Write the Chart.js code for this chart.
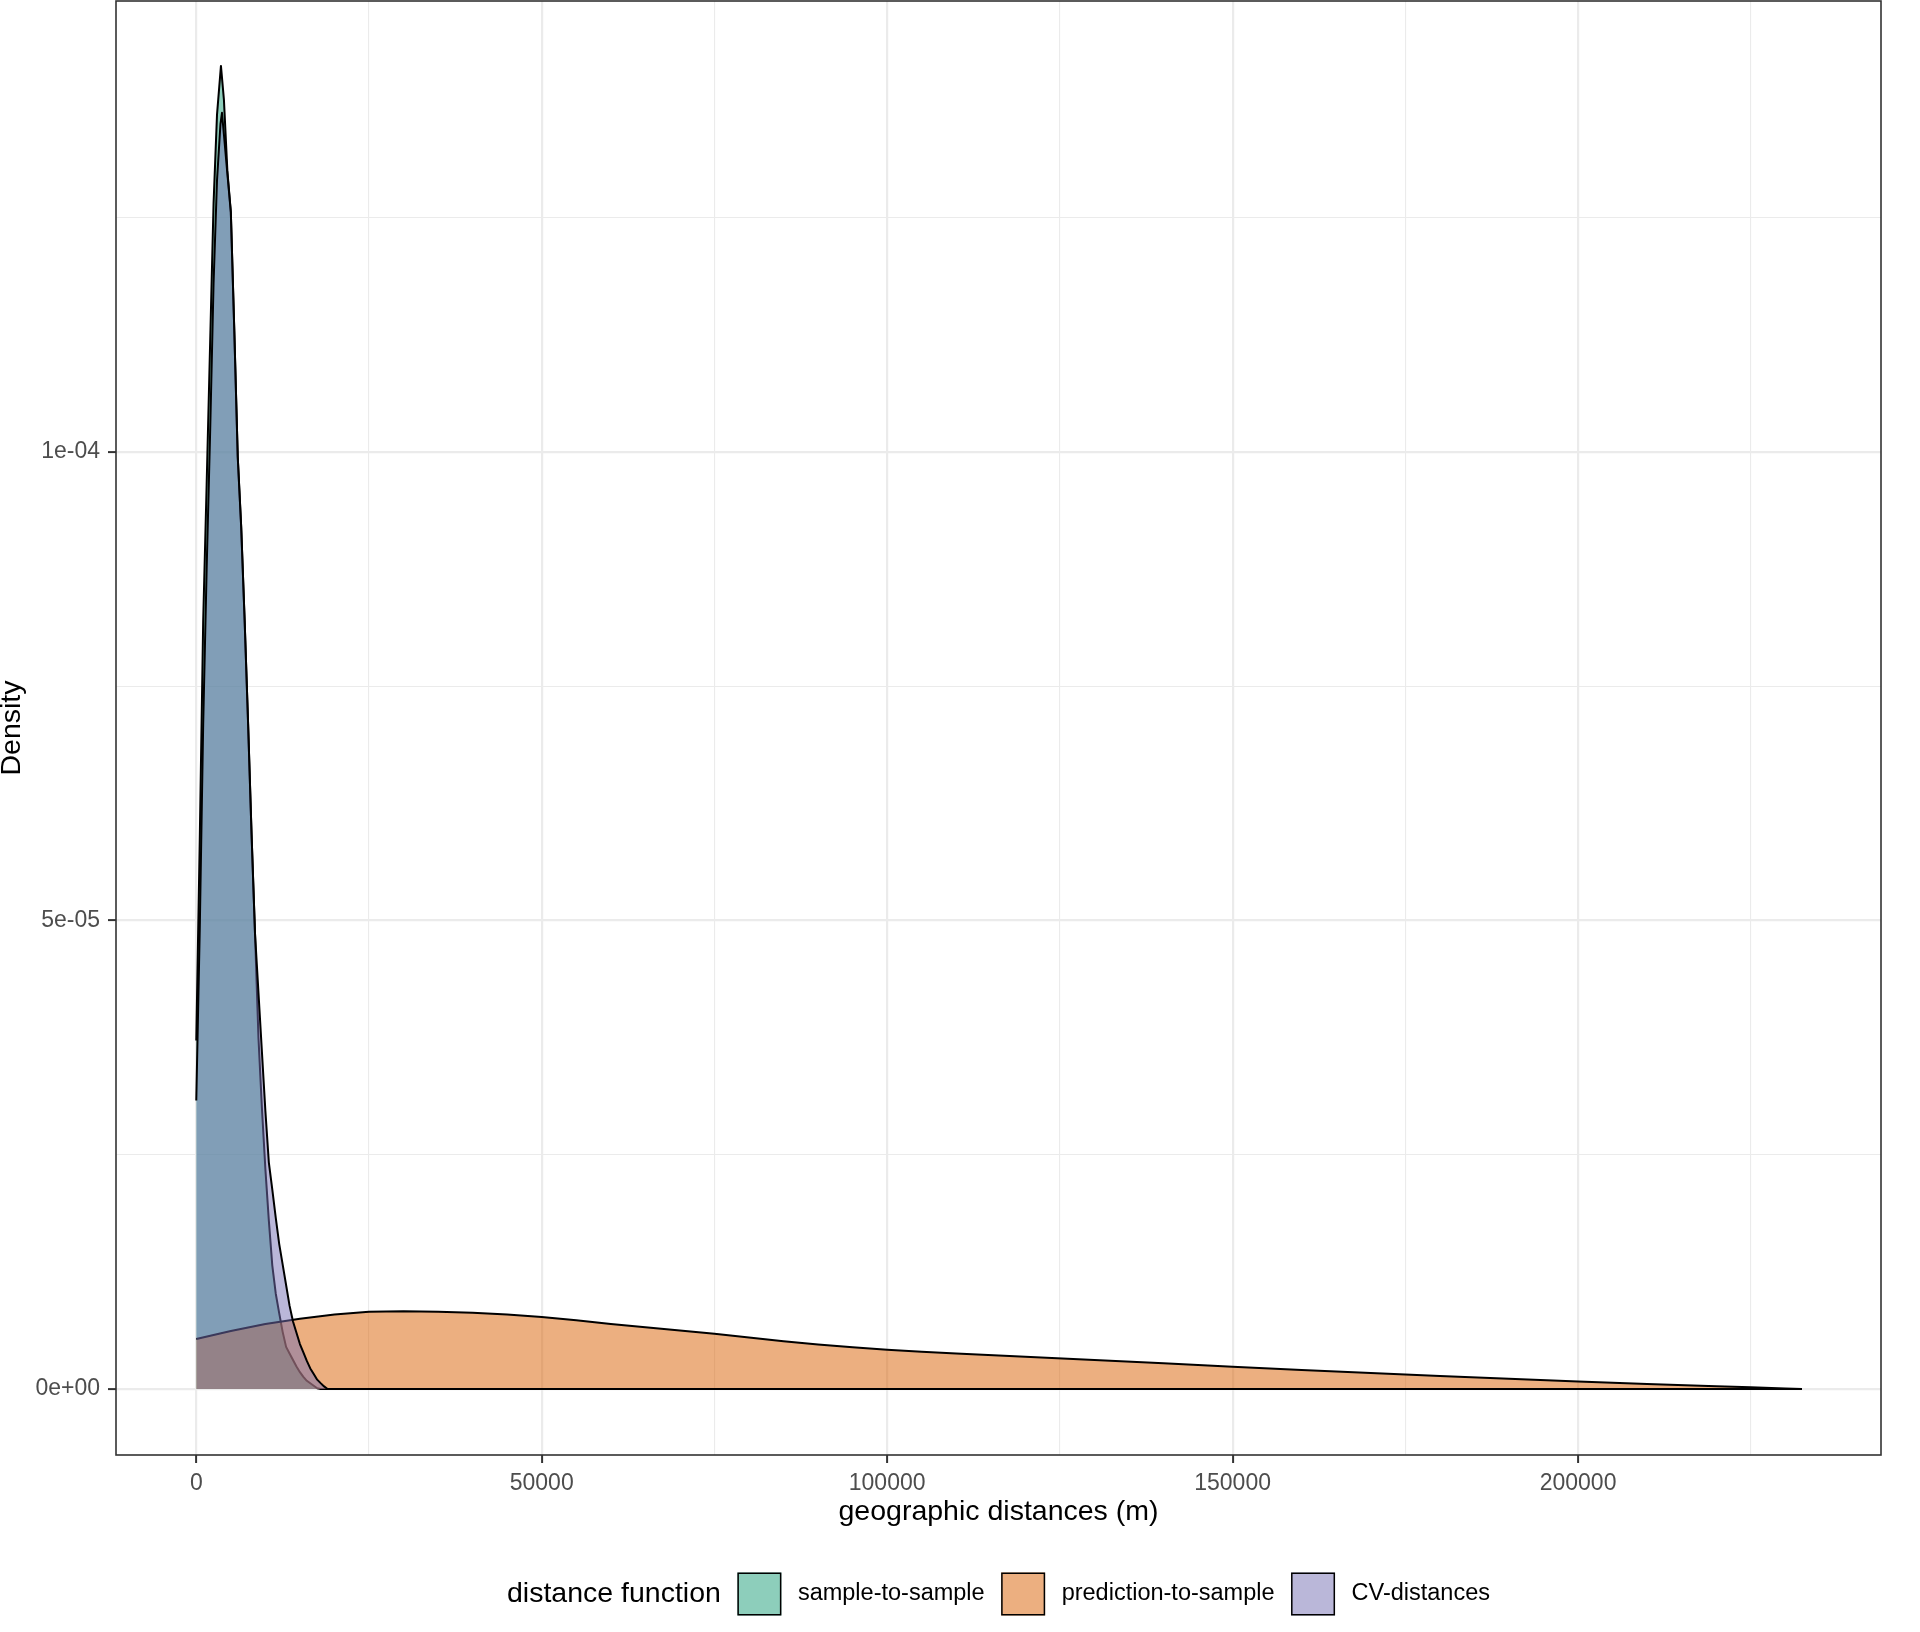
<!DOCTYPE html>
<html>
<head>
<meta charset="utf-8">
<script src="https://cdn.jsdelivr.net/npm/chart.js@4/dist/chart.umd.min.js"></script>
<style>
  html, body { margin: 0; padding: 0; background: #ffffff; }
  canvas { display: block; }
</style>
</head>
<body>
<canvas id="densChart" width="1920" height="1632" style="width:1920px;height:1632px"></canvas>
<script>
// density curves (x in metres, y = density)
const seriesNames = ['sample-to-sample', 'prediction-to-sample', 'CV-distances'];

const sampleX = [0, 500, 1000, 1500, 2000, 2500, 3000, 3570, 4000, 4500, 5000, 5500, 6000, 6500, 7000, 7500, 8000, 8500, 9000, 9500, 10000, 10500, 11000, 11500, 12000, 12500, 13000, 13500, 14000, 14500, 15000, 15500, 16000, 16500, 17000, 17500, 18000, 232400];
const sampleY = [3.72e-5, 5.85e-5, 8.2e-5, 9.65e-5, 1.115e-4, 1.265e-4, 1.36e-4, 1.412e-4, 1.376e-4, 1.30e-4, 1.256e-4, 1.13e-4, 9.95e-5, 9.2e-5, 8.2e-5, 7.1e-5, 5.92e-5, 4.86e-5, 3.75e-5, 3.0e-5, 2.35e-5, 1.8e-5, 1.32e-5, 1.02e-5, 8.1e-6, 6.1e-6, 4.5e-6, 3.8e-6, 3.1e-6, 2.4e-6, 1.8e-6, 1.3e-6, 8.8e-7, 6.1e-7, 3.5e-7, 8e-8, 0, 0];

const predX = [0, 5000, 10000, 15000, 20000, 25000, 30000, 35000, 40000, 45000, 50000, 55000, 60000, 65000, 70000, 75000, 80000, 85000, 90000, 95000, 100000, 105000, 110000, 120000, 130000, 140000, 150000, 160000, 170000, 180000, 190000, 200000, 210000, 220000, 225000, 230000, 232400];
const predY = [5.35e-6, 6.2e-6, 6.95e-6, 7.5e-6, 7.95e-6, 8.25e-6, 8.3e-6, 8.25e-6, 8.15e-6, 7.95e-6, 7.7e-6, 7.35e-6, 6.95e-6, 6.6e-6, 6.25e-6, 5.9e-6, 5.5e-6, 5.1e-6, 4.75e-6, 4.45e-6, 4.2e-6, 3.98e-6, 3.8e-6, 3.45e-6, 3.1e-6, 2.75e-6, 2.38e-6, 2.03e-6, 1.72e-6, 1.4e-6, 1.1e-6, 8.0e-7, 5.5e-7, 3.0e-7, 1.8e-7, 6e-8, 0];

const cvX = [0, 500, 1000, 1500, 2000, 2500, 3000, 3500, 3720, 4000, 4500, 5000, 5500, 6000, 6500, 7000, 7500, 8000, 8500, 9000, 9500, 10000, 10500, 11000, 11500, 12000, 12500, 13000, 13500, 14000, 14500, 15000, 15500, 16000, 16500, 17000, 17500, 18000, 18500, 19000, 232400];
const cvY = [3.08e-5, 4.9e-5, 7.1e-5, 8.75e-5, 1.02e-4, 1.18e-4, 1.29e-4, 1.35e-4, 1.362e-4, 1.339e-4, 1.297e-4, 1.256e-4, 1.13e-4, 9.95e-5, 9.2e-5, 8.2e-5, 7.1e-5, 5.92e-5, 4.86e-5, 4.23e-5, 3.6e-5, 2.97e-5, 2.42e-5, 2.13e-5, 1.83e-5, 1.55e-5, 1.33e-5, 1.11e-5, 8.9e-6, 7.2e-6, 6.0e-6, 4.8e-6, 3.9e-6, 3.0e-6, 2.2e-6, 1.6e-6, 1.0e-6, 6.3e-7, 2.8e-7, 0, 0];

const xTicks = [0, 25000, 50000, 75000, 100000, 125000, 150000, 175000, 200000, 225000];
const xLabelled = [0, 50000, 100000, 150000, 200000];
const yTicks = [0, 2.5e-5, 5e-5, 7.5e-5, 1e-4, 1.25e-4];
const yLabelled = [0, 5e-5, 1e-4];
const yLabelText = ['0e+00', '5e-05', '1e-04'];

const fillColors = ['rgba(27,158,119,0.5)', 'rgba(217,95,2,0.5)', 'rgba(117,112,179,0.5)'];
const FONT = '"Liberation Sans", Arial, Helvetica, sans-serif';

function toPoints(xs, ys) {
    return xs.map(function (x, i) { return { x: x, y: ys[i] }; });
}
function findLabel(list, v, tol) {
    for (let i = 0; i < list.length; i++) {
        if (Math.abs(list[i] - v) <= tol) return i;
    }
    return -1;
}

const panelBorder = {
    id: 'panelBorder',
    afterDatasetsDraw(chart) {
        const a = chart.chartArea, ctx = chart.ctx;
        ctx.save();
        ctx.strokeStyle = '#333333';
        ctx.lineWidth = 1.6;
        ctx.strokeRect(a.left, a.top, a.right - a.left, a.bottom - a.top);
        ctx.restore();
    }
};

// ggplot-style legend: title then keys in one row, centred under the panel
const bottomLegend = {
    id: 'bottomLegend',
    afterDraw(chart) {
        const ctx = chart.ctx, a = chart.chartArea;
        const gap = 16.5, keyW = 44, keyH = 43, cy = 1594;
        ctx.save();
        ctx.font = '28.5px ' + FONT;
        const titleW = ctx.measureText('distance function').width;
        ctx.font = '23.5px ' + FONT;
        const labW = seriesNames.map(function (n) { return ctx.measureText(n).width; });
        let total = titleW;
        labW.forEach(function (w) { total += gap + keyW + gap + w; });
        let x = (a.left + a.right) / 2 - total / 2;
        ctx.textBaseline = 'middle';
        ctx.fillStyle = '#000000';
        ctx.font = '28.5px ' + FONT;
        ctx.fillText('distance function', x, cy);
        x += titleW;
        ctx.font = '23.5px ' + FONT;
        seriesNames.forEach(function (n, i) {
            x += gap;
            const top = cy - keyH / 2;
            ctx.fillStyle = '#ffffff';
            ctx.fillRect(x, top, keyW, keyH);
            ctx.fillStyle = fillColors[i];
            ctx.fillRect(x, top, keyW, keyH);
            ctx.strokeStyle = '#000000';
            ctx.lineWidth = 1.5;
            ctx.strokeRect(x + 0.75, top + 0.75, keyW - 1.5, keyH - 1.5);
            x += keyW + gap;
            ctx.fillStyle = '#000000';
            ctx.fillText(n, x, cy);
            x += labW[i];
        });
        ctx.restore();
    }
};

const ctx = document.getElementById('densChart').getContext('2d');

const densChart = new Chart(ctx, {
    type: 'line',
    data: {
        datasets: [{
            label: seriesNames[0],
            data: toPoints(sampleX, sampleY),
            backgroundColor: fillColors[0],
            borderColor: '#000000',
            borderWidth: 2,
            fill: 'origin',
            order: 2
        }, {
            label: seriesNames[1],
            data: toPoints(predX, predY),
            backgroundColor: fillColors[1],
            borderColor: '#000000',
            borderWidth: 2,
            fill: 'origin',
            order: 1
        }, {
            label: seriesNames[2],
            data: toPoints(cvX, cvY),
            backgroundColor: fillColors[2],
            borderColor: '#000000',
            borderWidth: 2,
            fill: 'origin',
            order: 0
        }]
    },
    options: {
        responsive: false,
        animation: false,
        devicePixelRatio: 1,
        elements: {
            point: { radius: 0, hoverRadius: 0 },
            line: { tension: 0, borderJoinStyle: 'round' }
        },
        layout: { padding: { left: 0, top: 1, right: 39, bottom: 0 } },
        plugins: {
            legend: { display: false },
            tooltip: { enabled: false }
        },
        scales: {
            x: {
                type: 'linear',
                min: -11620,
                max: 243850,
                afterBuildTicks: function (scale) {
                    scale.ticks = xTicks.map(function (v) { return { value: v }; });
                },
                afterFit: function (scale) {
                    scale.height = 177;
                    scale.paddingLeft = 0;
                    scale.paddingRight = 0;
                },
                border: { display: false },
                grid: {
                    color: '#EBEBEB',
                    lineWidth: function (c) { return findLabel(xLabelled, c.tick.value, 1) >= 0 ? 2.2 : 1.1; },
                    tickLength: 8,
                    tickWidth: 2,
                    tickColor: function (c) { return findLabel(xLabelled, c.tick.value, 1) >= 0 ? '#333333' : 'rgba(0,0,0,0)'; }
                },
                ticks: {
                    padding: 7,
                    maxRotation: 0,
                    autoSkip: false,
                    color: '#4D4D4D',
                    font: { family: FONT, size: 23 },
                    callback: function (v) { return findLabel(xLabelled, v, 1) >= 0 ? String(v) : ''; }
                },
                title: {
                    display: true,
                    text: 'geographic distances (m)',
                    color: '#000000',
                    font: { family: FONT, size: 28.5, lineHeight: 1 },
                    padding: { top: 0, bottom: 106 }
                }
            },
            y: {
                type: 'linear',
                min: -7.04e-6,
                max: 1.4813e-4,
                afterBuildTicks: function (scale) {
                    scale.ticks = yTicks.map(function (v) { return { value: v }; });
                },
                afterFit: function (scale) {
                    scale.width = 116;
                    scale.paddingTop = 0;
                    scale.paddingBottom = 0;
                },
                border: { display: false },
                grid: {
                    color: '#EBEBEB',
                    lineWidth: function (c) { return findLabel(yLabelled, c.tick.value, 1e-9) >= 0 ? 2.2 : 1.1; },
                    tickLength: 8,
                    tickWidth: 2,
                    tickColor: function (c) { return findLabel(yLabelled, c.tick.value, 1e-9) >= 0 ? '#333333' : 'rgba(0,0,0,0)'; }
                },
                ticks: {
                    padding: 8,
                    autoSkip: false,
                    color: '#4D4D4D',
                    font: { family: FONT, size: 23 },
                    callback: function (v) {
                        const i = findLabel(yLabelled, v, 1e-9);
                        return i >= 0 ? yLabelText[i] : '';
                    }
                },
                title: {
                    display: true,
                    text: 'Density',
                    color: '#000000',
                    font: { family: FONT, size: 28.5, lineHeight: 1 },
                    padding: { top: -2, bottom: 0 }
                }
            }
        }
    },
    plugins: [panelBorder, bottomLegend]
});
</script>
</body>
</html>
